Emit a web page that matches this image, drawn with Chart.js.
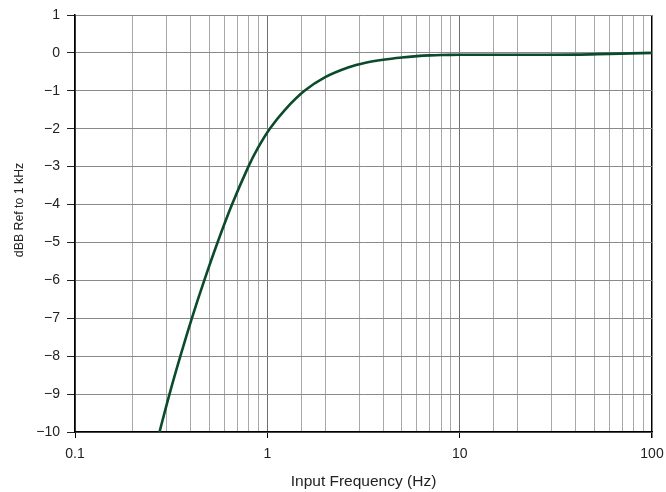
<!DOCTYPE html>
<html>
<head>
<meta charset="utf-8">
<script src="https://cdn.jsdelivr.net/npm/chart.js@4/dist/chart.umd.min.js"></script>
<style>
  html, body { margin: 0; padding: 0; background: #fff; }
  #wrap { width: 666px; height: 492px; }
</style>
</head>
<body>
<div id="wrap"><canvas id="chart"></canvas></div>
<script>
// response: frequency (Hz) vs dBB
const freqHz = [0.275, 0.31, 0.353, 0.405, 0.47, 0.551, 0.655, 0.797, 0.895, 1.03, 1.235, 1.56, 2.0, 2.65, 3.24, 4, 5, 6, 7, 8, 10, 20, 40, 60, 100];
const dbbRel = [-10, -9, -8, -7, -6, -5, -4, -3, -2.5, -2.0, -1.5, -1.0, -0.64, -0.38, -0.26, -0.18, -0.12, -0.085, -0.065, -0.055, -0.05, -0.05, -0.045, -0.025, 0];
const xTickLabels = ['0.1', '1', '10', '100'];
const yTitle = 'dBB Ref to 1 kHz';

const points = freqHz.map((f, i) => ({ x: f, y: dbbRel[i] }));

function isDecade(v) {
    const l = Math.log10(v);
    return Math.abs(l - Math.round(l)) < 1e-6;
}

const family = "'Liberation Sans', Arial, sans-serif";
const tickFont = { family: family, size: 14 };

// y title sits a bit above the middle of the axis in the original, so draw it by hand
const yTitlePlugin = {
    id: 'yTitle',
    afterDraw(chart) {
        const ctx = chart.ctx;
        ctx.save();
        ctx.translate(20, 210);
        ctx.rotate(-Math.PI / 2);
        ctx.font = '12.3px ' + family;
        ctx.fillStyle = '#222';
        ctx.textAlign = 'center';
        ctx.textBaseline = 'middle';
        ctx.fillText(yTitle, 0, 0);
        ctx.restore();
    }
};

new Chart(document.getElementById('chart'), {
    type: 'line',
    data: {
        datasets: [{
            data: points,
            borderColor: '#0b4a2b',
            borderWidth: 2.6,
            pointRadius: 0,
            fill: false,
            tension: 0.35
        }]
    },
    plugins: [yTitlePlugin],
    options: {
        responsive: true,
        maintainAspectRatio: false,
        animation: false,
        layout: { padding: { top: 15, right: 14, left: 0, bottom: 0 } },
        plugins: { legend: { display: false }, tooltip: { enabled: false } },
        scales: {
            x: {
                type: 'logarithmic',
                min: 0.1,
                max: 100,
                afterFit: (s) => { s.height = 60; s.paddingLeft = 0; s.paddingRight = 0; },
                border: { color: '#000', width: 1.5 },
                grid: {
                    color: (c) => {
                        const v = c.tick && c.tick.value;
                        if (v >= 99.9) return '#000';
                        return isDecade(v) ? '#6e6e6e' : '#a8a8a8';
                    },
                    lineWidth: (c) => (c.tick && c.tick.value >= 99.9) ? 1.5 : 1,
                    tickColor: (c) => isDecade(c.tick.value) ? '#000' : 'rgba(0,0,0,0)',
                    tickLength: 6
                },
                ticks: {
                    autoSkip: false,
                    maxRotation: 0,
                    color: '#222',
                    font: tickFont,
                    padding: 8,
                    callback: (v) => {
                        if (!isDecade(v)) return '';
                        const idx = Math.round(Math.log10(v)) + 1;
                        return xTickLabels[idx] || '';
                    }
                },
                title: {
                    display: true,
                    text: 'Input Frequency (Hz)',
                    color: '#222',
                    font: { family: family, size: 15.5 },
                    padding: { top: 4, bottom: 1 }
                }
            },
            y: {
                min: -10,
                max: 1,
                afterFit: (s) => { s.width = 75; s.paddingTop = 0; s.paddingBottom = 0; },
                border: { color: '#000', width: 1.5 },
                grid: {
                    color: '#8a8a8a',
                    lineWidth: 1,
                    tickColor: '#222',
                    tickLength: 8
                },
                ticks: {
                    stepSize: 1,
                    color: '#222',
                    font: tickFont,
                    padding: 7,
                    callback: (v) => v < 0 ? '\u2212' + Math.abs(v) : String(v)
                }
            }
        }
    }
});
</script>
</body>
</html>
